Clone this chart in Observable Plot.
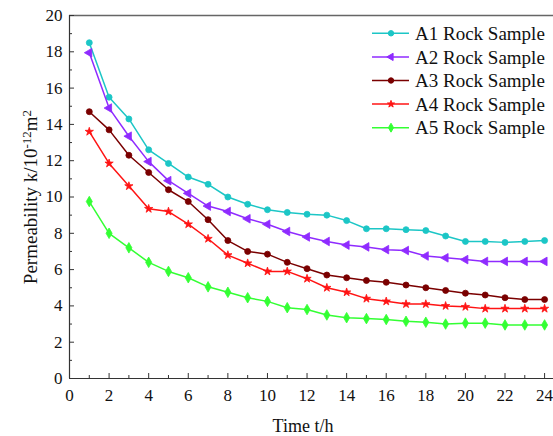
<!DOCTYPE html>
<html>
<head>
<meta charset="utf-8">
<script src="https://cdn.jsdelivr.net/npm/d3@7"></script>
<script src="https://cdn.jsdelivr.net/npm/@observablehq/plot@0.6"></script>
<style>
  body { margin: 0; background: #fff; }
  #chart svg { display: block; }
  #chart svg text { font-family: "Liberation Serif", "Times New Roman", serif; }
</style>
</head>
<body>
<div id="chart"></div>
<script>
// ---- data ----
const times = [1,2,3,4,5,6,7,8,9,10,11,12,13,14,15,16,17,18,19,20,21,22,23,24];
const seriesNames = ["A1 Rock Sample","A2 Rock Sample","A3 Rock Sample","A4 Rock Sample","A5 Rock Sample"];
const a1 = [18.5,15.5,14.3,12.6,11.85,11.1,10.7,10.0,9.6,9.3,9.15,9.05,9.0,8.7,8.25,8.25,8.2,8.15,7.85,7.55,7.55,7.5,7.55,7.6];
const a2 = [17.95,14.9,13.35,11.95,10.9,10.2,9.5,9.2,8.8,8.5,8.1,7.8,7.55,7.35,7.25,7.1,7.05,6.75,6.65,6.55,6.45,6.45,6.45,6.45];
const a3 = [14.7,13.7,12.3,11.35,10.4,9.75,8.75,7.6,7.0,6.85,6.4,6.05,5.7,5.55,5.4,5.3,5.15,5.0,4.85,4.7,4.6,4.45,4.35,4.35];
const a4 = [13.6,11.85,10.6,9.35,9.2,8.5,7.7,6.8,6.35,5.9,5.9,5.5,5.0,4.75,4.4,4.25,4.1,4.1,4.0,3.95,3.85,3.85,3.85,3.85];
const a5 = [9.75,8.0,7.2,6.4,5.9,5.55,5.05,4.75,4.45,4.25,3.9,3.8,3.5,3.35,3.3,3.25,3.15,3.1,3.0,3.05,3.05,2.95,2.95,2.95];
const xTicks = [0,2,4,6,8,10,12,14,16,18,20,22,24];
const xMinorTicks = [1,3,5,7,9,11,13,15,17,19,21,23];
const yTicks = [0,2,4,6,8,10,12,14,16,18,20];
const yMinorTicks = [1,3,5,7,9,11,13,15,17,19];
const xLabel = "Time t/h";

// ---- styling ----
const seriesValues = [a1,a2,a3,a4,a5];
const colors = ["#1cc6c6","#8f2bff","#7a0000","#ff1414","#33ff33"];
const symbols = ["circle","triangle","circle","star","diamond"];
const rotations = [0,-90,0,0,0];
const radii = [3,3.2,3,2.6,3.2];
const font = "'Liberation Serif','Times New Roman',serif";

const rows = [];
seriesNames.forEach((name, i) => {
  seriesValues[i].forEach((v, j) => rows.push({series: name, t: times[j], k: v}));
});

const seriesMarks = [];
seriesNames.forEach((name, i) => {
  const d = rows.filter(r => r.series === name);
  seriesMarks.push(Plot.line(d, {x: "t", y: "k", stroke: colors[i], strokeWidth: 1.5}));
  seriesMarks.push(Plot.dot(d, {x: "t", y: "k", fill: colors[i], stroke: colors[i], strokeWidth: 0.8,
    symbol: symbols[i], r: radii[i], rotate: rotations[i]}));
});

const plot = Plot.plot({
  width: 553,
  height: 436,
  marginLeft: 69,
  marginRight: 0,
  marginTop: 15,
  marginBottom: 58,
  x: {domain: [0, 24.45]},
  y: {domain: [0, 20]},
  style: {fontFamily: font, fontSize: "17px", color: "#111", background: "#fff"},
  marks: [
    Plot.ruleY([20], {stroke: "#666", strokeWidth: 1.6}),
    Plot.ruleY([0], {stroke: "#333", strokeWidth: 1.2}),
    Plot.ruleX([0], {stroke: "#333", strokeWidth: 1.2}),
    ...seriesMarks,
    Plot.axisX(xTicks, {tickSize: -5, tickPadding: 15, label: null, stroke: "#333"}),
    Plot.axisX(xMinorTicks, {tickSize: -3, tickFormat: () => "", label: null, stroke: "#333"}),
    Plot.axisY(yTicks, {tickSize: -5, tickPadding: 12, label: null, stroke: "#333"}),
    Plot.axisY(yMinorTicks, {tickSize: -3, tickFormat: () => "", label: null, stroke: "#333"})
  ]
});

const svg = d3.select(plot);

// x axis title
svg.append("text")
  .attr("x", 303).attr("y", 432)
  .attr("text-anchor", "middle")
  .style("font-size", "18px").attr("fill", "#111")
  .text(xLabel);

// y axis title with superscripts
const yl = svg.append("text")
  .attr("transform", "translate(37,197) rotate(-90)")
  .attr("text-anchor", "middle")
  .style("font-size", "19px").attr("fill", "#111");
yl.append("tspan").text("Permeability k/10");
yl.append("tspan").attr("dy", "-0.5em").style("font-size", "13px").text("-12");
yl.append("tspan").attr("dy", "0.35em").text("m");
yl.append("tspan").attr("dy", "-0.5em").style("font-size", "13px").text("2");

// legend
const symbolMap = {circle: d3.symbolCircle, triangle: d3.symbolTriangle, star: d3.symbolStar, diamond: d3.symbolDiamond};
const lg = svg.append("g");
seriesNames.forEach((name, i) => {
  const y = 33.3 + 23.6 * i;
  lg.append("line").attr("x1", 372).attr("x2", 409).attr("y1", y).attr("y2", y)
    .attr("stroke", colors[i]).attr("stroke-width", 1.5);
  lg.append("path")
    .attr("d", d3.symbol(symbolMap[symbols[i]], (symbols[i] === "star" ? 2.2 : 2.7) ** 2 * Math.PI)())
    .attr("transform", `translate(391,${y}) rotate(${rotations[i]})`)
    .attr("fill", colors[i]).attr("stroke", colors[i]);
  lg.append("text").attr("x", 415).attr("y", y).attr("dy", "0.35em")
    .attr("text-anchor", "start")
    .style("font-size", "19px").attr("fill", "#111")
    .text(name);
});

// force serif font on every text element (tick labels included)
svg.selectAll("text").style("font-family", font);

document.getElementById("chart").appendChild(plot);
</script>
</body>
</html>
